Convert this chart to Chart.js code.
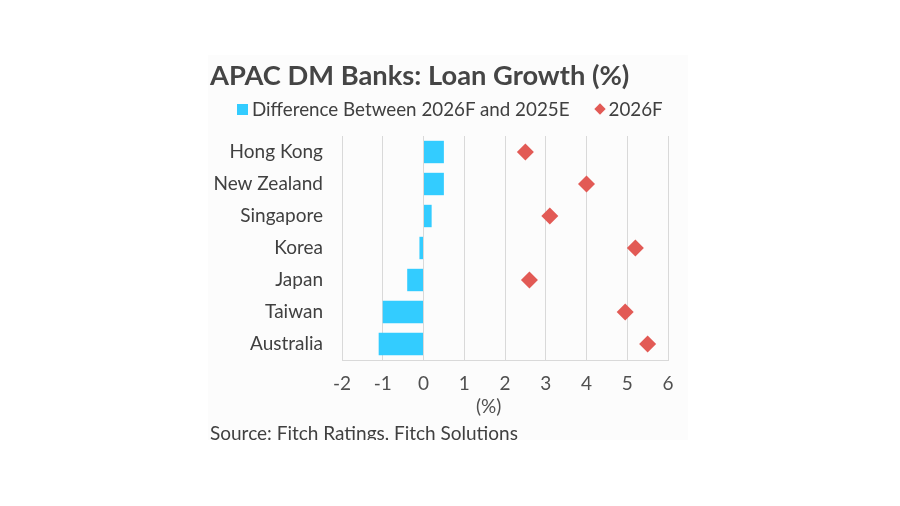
<!DOCTYPE html>
<html>
<head>
<meta charset="utf-8">
<script src="https://cdn.jsdelivr.net/npm/chart.js@4.4.1/dist/chart.umd.min.js"></script>
<style>
  html, body { margin: 0; padding: 0; background: #fff; }
  body { width: 900px; height: 506px; position: relative; font-family: Lato, sans-serif; }
  #panel { position: absolute; left: 208px; top: 55px; width: 480px; height: 385px; background: #fcfcfc; overflow: hidden; }
  #wrap { position: absolute; left: 0; top: 0; width: 480px; height: 385px; }
  #title { position: absolute; left: 2px; top: 4px; font-size: 27.3px; line-height: 1.2; font-weight: bold; color: #454545; white-space: nowrap; }
  #legend { position: absolute; left: 29px; top: 43px; height: 22px; line-height: 22px; font-size: 18.8px; color: #404040; white-space: nowrap; display: flex; align-items: center; }
  #legend .sq { width: 11px; height: 11px; margin-right: 4px; }
  #legend .dm { width: 8px; height: 8px; transform: rotate(45deg); margin: 0 5px 0 26px; }
  #unit { position: absolute; left: 268px; top: 339px; font-size: 19px; color: #505050; }
  #source { position: absolute; left: 2px; top: 367px; font-size: 19px; line-height: 1.2; color: #404040; white-space: nowrap; }
</style>
</head>
<body>
<div id="panel">
  <div id="wrap"><canvas id="chart"></canvas></div>
  <div id="title">APAC DM Banks: Loan Growth (%)</div>
  <div id="legend"></div>
  <div id="unit">(%)</div>
  <div id="source">Source: Fitch Ratings, Fitch Solutions</div>
</div>
<script>
const countries = ['Hong Kong', 'New Zealand', 'Singapore', 'Korea', 'Japan', 'Taiwan', 'Australia'];
const diffValues = [0.5, 0.5, 0.2, -0.1, -0.4, -1.0, -1.1];
const forecast2026 = [2.5, 4.0, 3.1, 5.2, 2.6, 4.95, 5.5];
const seriesNames = ['Difference Between 2026F and 2025E', '2026F'];

const barColor = '#33ccff';
const diamondColor = '#e25a55';

// legend in html, the chart.js one can't be spaced like the original
const legend = document.getElementById('legend');
legend.innerHTML =
    '<span class="sq" style="background:' + barColor + '"></span><span>' + seriesNames[0] + '</span>' +
    '<span class="dm" style="background:' + diamondColor + '"></span><span>' + seriesNames[1] + '</span>';

new Chart(document.getElementById('chart'), {
    type: 'bar',
    data: {
        labels: countries,
        datasets: [{
            label: seriesNames[0],
            data: diffValues,
            backgroundColor: barColor,
            borderWidth: 0,
            categoryPercentage: 0.7,
            barPercentage: 1,
        }, {
            type: 'line',
            label: seriesNames[1],
            data: forecast2026,
            showLine: false,
            pointStyle: 'rectRot',
            pointRadius: 8.5,
            pointHoverRadius: 8.5,
            backgroundColor: diamondColor,
            borderColor: diamondColor,
            borderWidth: 0,
        }],
    },
    options: {
        indexAxis: 'y',
        responsive: true,
        maintainAspectRatio: false,
        animation: false,
        layout: { padding: { left: 2, right: 20, top: 81, bottom: 0 } },
        plugins: {
            legend: { display: false },
            tooltip: { enabled: false },
        },
        scales: {
            x: {
                min: -2,
                max: 6,
                afterFit(scale) { scale.height = 80; },
                ticks: { stepSize: 1, color: '#505050', padding: 12, font: { family: 'Lato', size: 19 } },
                grid: { color: '#d9d9d9', drawTicks: false },
                border: { color: '#d9d9d9' },
            },
            y: {
                afterFit(scale) { scale.width = 132; },
                ticks: { color: '#404040', padding: 19, font: { family: 'Lato', size: 19 } },
                grid: { display: false, drawTicks: false },
                border: { display: false },
            },
        },
    },
});
</script>
</body>
</html>
